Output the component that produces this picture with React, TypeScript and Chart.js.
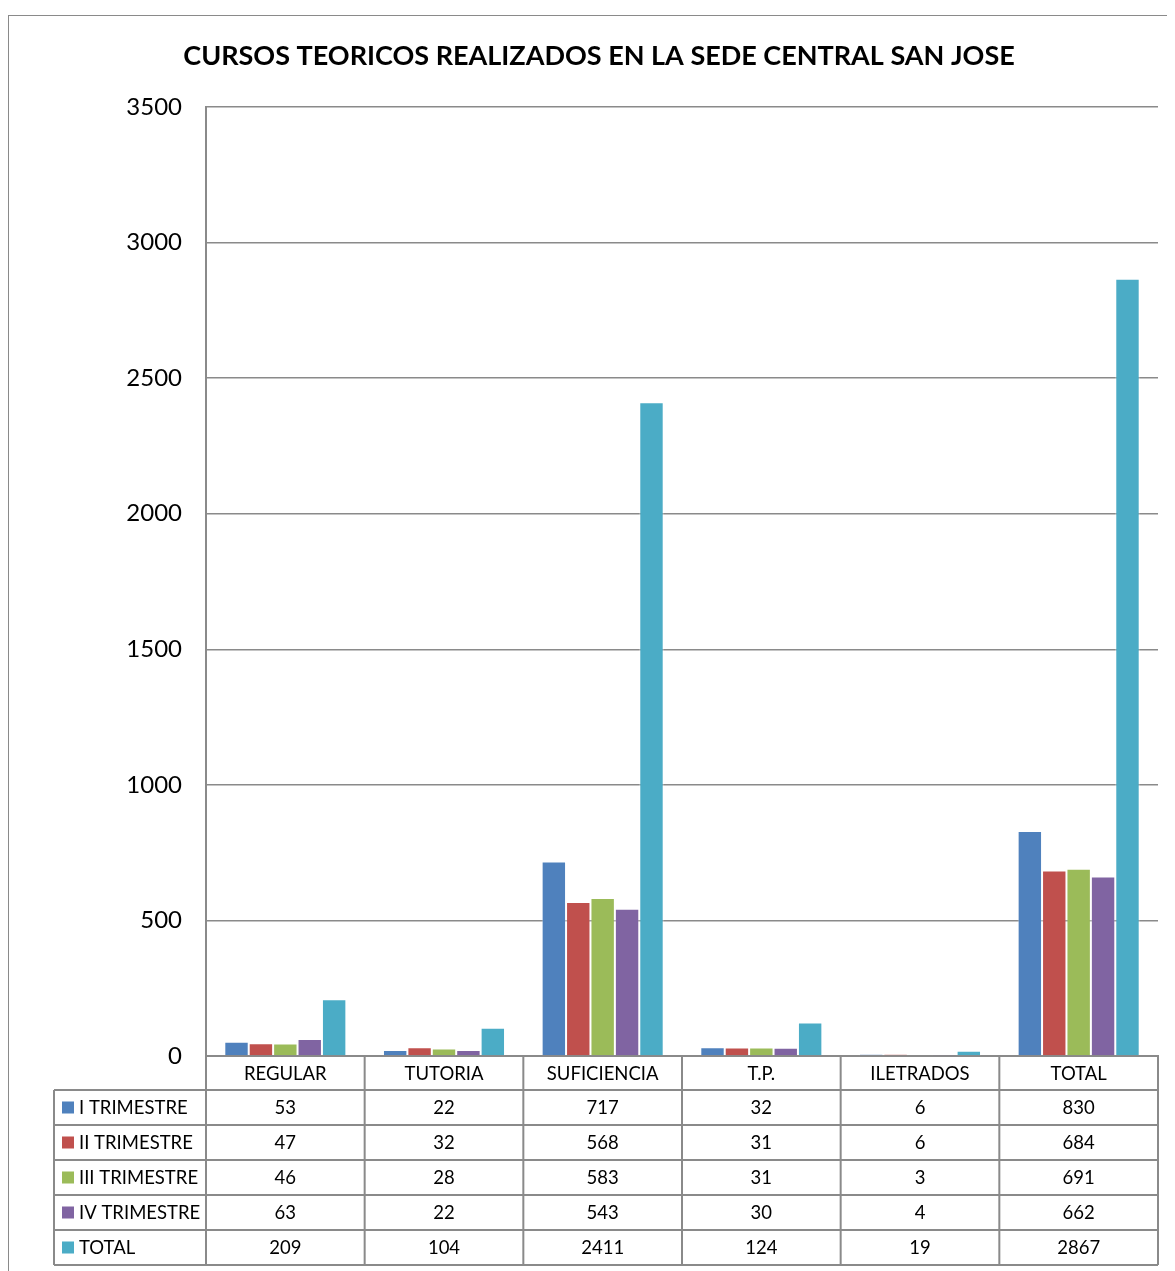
import React, { useEffect, useRef } from 'react';
import { Chart, registerables } from 'chart.js';
Chart.register(...registerables);

const TITLE = 'CURSOS TEORICOS REALIZADOS EN LA SEDE CENTRAL SAN JOSE';
const categories = ['REGULAR', 'TUTORIA', 'SUFICIENCIA', 'T.P.', 'ILETRADOS', 'TOTAL'];
const seriesNames = ['I TRIMESTRE', 'II TRIMESTRE', 'III TRIMESTRE', 'IV TRIMESTRE', 'TOTAL'];
const trimestre1 = [53, 22, 717, 32, 6, 830];
const trimestre2 = [47, 32, 568, 31, 6, 684];
const trimestre3 = [46, 28, 583, 31, 3, 691];
const trimestre4 = [63, 22, 543, 30, 4, 662];
const totales = [209, 104, 2411, 124, 19, 2867];
const seriesColors = ['#4F81BD', '#C0504D', '#9BBB59', '#8064A2', '#4BACC6'];
const yTicks = [0, 500, 1000, 1500, 2000, 2500, 3000, 3500];

const FONT = 'Lato, "Open Sans", sans-serif';
const LINE = '#8a8a8a';
const W = 1180;
const H = 1280;

const titlePlugin = {
  id: 'customTitle',
  afterDraw(chart: any) {
    const ctx = chart.ctx;
    ctx.save();
    ctx.font = `bold 27px ${FONT}`;
    ctx.fillStyle = '#000';
    ctx.textAlign = 'center';
    ctx.textBaseline = 'middle';
    ctx.fillText(TITLE, chart.width / 2, 40);
    ctx.restore();
  },
};

const tablePlugin = {
  id: 'dataTable',
  afterDraw(chart: any) {
    const ctx = chart.ctx;
    const xs = chart.scales.x;
    const area = chart.chartArea;
    const n = categories.length;
    const colW = (xs.right - xs.left) / n;
    const rowH = 35;
    const rowsTop = xs.bottom;
    const datasets = chart.data.datasets;
    const tableBottom = rowsTop + rowH * datasets.length;
    const legendLeft = 45;
    ctx.save();
    ctx.strokeStyle = LINE;
    ctx.lineWidth = 2;
    ctx.beginPath();
    for (let k = 0; k <= datasets.length; k++) {
      const y = rowsTop + k * rowH;
      ctx.moveTo(legendLeft, y);
      ctx.lineTo(xs.right, y);
    }
    for (let i = 0; i <= n; i++) {
      const x = xs.left + i * colW;
      ctx.moveTo(x, area.bottom);
      ctx.lineTo(x, tableBottom);
    }
    ctx.moveTo(legendLeft, rowsTop);
    ctx.lineTo(legendLeft, tableBottom);
    ctx.stroke();

    ctx.font = `18.5px ${FONT}`;
    ctx.fillStyle = '#000';
    ctx.textBaseline = 'middle';
    datasets.forEach((ds: any, r: number) => {
      const cy = rowsTop + r * rowH + rowH / 2;
      ctx.fillStyle = ds.backgroundColor;
      ctx.fillRect(legendLeft + 8, cy - 6, 12, 12);
      ctx.fillStyle = '#000';
      ctx.textAlign = 'left';
      ctx.fillText(ds.label, legendLeft + 25, cy + 1);
      ctx.textAlign = 'center';
      ds.data.forEach((v: number, i: number) => {
        ctx.fillText(String(v), xs.getPixelForTick(i), cy + 1);
      });
    });
    ctx.restore();
  },
};

export default function App() {
  const ref = useRef<HTMLCanvasElement>(null);
  useEffect(() => {
    const values = [trimestre1, trimestre2, trimestre3, trimestre4, totales];
    const chart = new Chart(ref.current!, {
      type: 'bar',
      data: {
        labels: categories,
        datasets: seriesNames.map((name, i) => ({
          label: name,
          data: values[i],
          backgroundColor: seriesColors[i],
          borderColor: 'rgba(255,255,255,0.45)',
          borderWidth: 1,
          categoryPercentage: 5 / 6.5,
          barPercentage: 1,
        })),
      },
      options: {
        responsive: false,
        animation: false,
        devicePixelRatio: 1,
        layout: { padding: { left: 0, right: W - 1149, top: 91, bottom: H - 1074 } },
        plugins: {
          legend: { display: false },
          title: { display: false },
          tooltip: { enabled: false },
        },
        scales: {
          x: {
            grid: { display: false, drawTicks: false },
            border: { display: true, color: LINE, width: 2 },
            ticks: { color: '#000', font: { family: FONT, size: 18.5 }, padding: 7, maxRotation: 0 },
            afterFit: (s: any) => { s.width = s.width; s.height = 34; },
          },
          y: {
            min: 0,
            max: 3500,
            afterBuildTicks: (s: any) => { s.ticks = yTicks.map((v) => ({ value: v })); },
            grid: { color: LINE, lineWidth: 1.5, drawTicks: false },
            border: { display: true, color: LINE, width: 2 },
            ticks: {
              color: '#000',
              font: { family: FONT, size: 24 },
              padding: 24,
              callback: (v: any) => String(v),
            },
            afterFit: (s: any) => { s.width = 197; },
          },
        },
      },
      plugins: [titlePlugin, tablePlugin],
    });
    return () => chart.destroy();
  }, []);
  return (
    <div style={{ width: 1167, height: 1263, overflow: 'hidden' }}>
      <div style={{ paddingTop: 7 }}>
        <div style={{ width: W, height: H, border: `1px solid ${LINE}`, background: '#fff' }}>
          <canvas ref={ref} width={W} height={H} style={{ display: 'block', width: W, height: H }} />
        </div>
      </div>
    </div>
  );
}
